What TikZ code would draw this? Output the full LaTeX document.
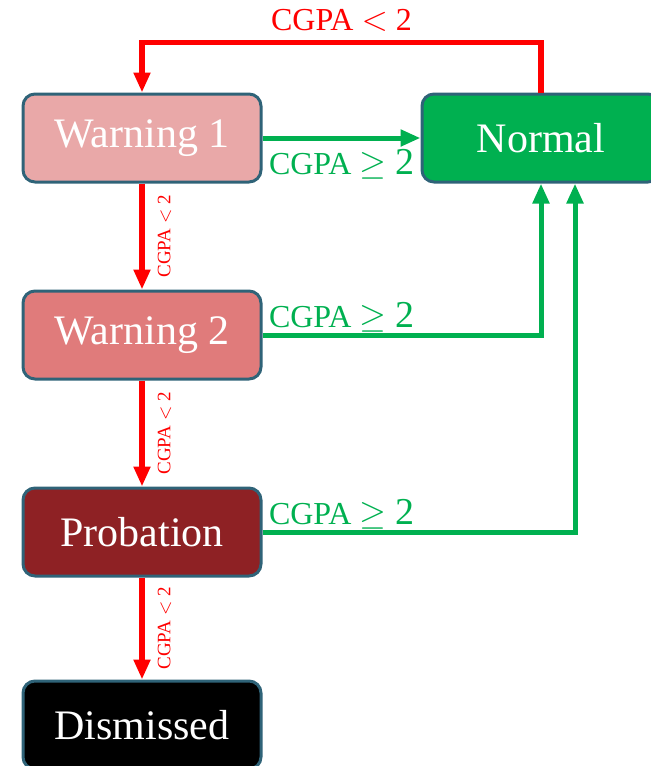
\documentclass[tikz,border=0pt]{standalone}
\usepackage{fontspec}
\setmainfont{Liberation Serif}
\usepackage{amsmath}
\usetikzlibrary{arrows.meta}
\definecolor{boxline}{RGB}{47,99,120}
\definecolor{failred}{RGB}{255,0,0}
\definecolor{passgreen}{RGB}{0,176,80}
\definecolor{warnonefill}{RGB}{233,168,168}
\definecolor{warntwofill}{RGB}{224,123,123}
\definecolor{probfill}{RGB}{142,33,36}
\begin{document}
\begin{tikzpicture}[x=0.5pt,y=0.5pt]
\useasboundingbox (0,0) rectangle (650,-766);
\begin{scope}[
state/.style={draw=boxline, line width=1.5pt, rounded corners=6pt, minimum width=119pt, minimum height=44pt, text=white, font=\fontsize{21}{24}\selectfont},
fail/.style={draw=failred, line width=2.75pt, -{Triangle[length=10pt,width=8pt]}},
pass/.style={draw=passgreen, line width=2.5pt, -{Triangle[length=10pt,width=8pt]}},
faillbl/.style={text=failred, font=\fontsize{9.5}{11}\selectfont, rotate=90, anchor=north, inner sep=6.5pt},
passlbl/.style={text=passgreen, font=\fontsize{16}{18}\selectfont, inner sep=2pt}
]
% draws states
\node[state, fill=warnonefill] (warn1) at (142,-138) {Warning 1};
\node[state, fill=warntwofill] (warn2) at (142,-335) {Warning 2};
\node[state, fill=probfill] (prob) at (142,-532) {Probation};
\node[state, fill=black] (dism) at (142,-725) {Dismissed};
\node[state, fill=passgreen] (norm) at (541,-138) {Normal};
% draws red arrows
\draw[fail] (norm.north) -- ++(0,50) -| node[pos=0.25, above=1pt, text=failred, font=\fontsize{16}{18}\selectfont] (failtop) {CGPA $<$ 2} (warn1.north);
\draw[fail] (warn1.south) -- (warn2.north) node[midway, faillbl] (failone) {CGPA $<$ 2};
\draw[fail] (warn2.south) -- (prob.north) node[midway, faillbl] (failtwo) {CGPA $<$ 2};
\draw[fail] (prob.south) -- (dism.north) node[midway, faillbl] (failthree) {CGPA $<$ 2};
% draws green arrows
\draw[pass] (warn1.east) -- (norm.west) node[pos=0, passlbl, anchor=base west, yshift=-18pt] (passone) {CGPA {\fontsize{19}{22}\selectfont$\geq$ 2}};
\draw[pass] (warn2.east) -| (norm.south) node[pos=0, passlbl, anchor=base west, yshift=4pt] (passtwo) {CGPA {\fontsize{19}{22}\selectfont$\geq$ 2}};
\draw[pass] (prob.east) -| ([xshift=17pt]norm.south) node[pos=0, passlbl, anchor=base west, yshift=4pt] (passthree) {CGPA {\fontsize{19}{22}\selectfont$\geq$ 2}};
\end{scope}
\end{tikzpicture}
\end{document}
